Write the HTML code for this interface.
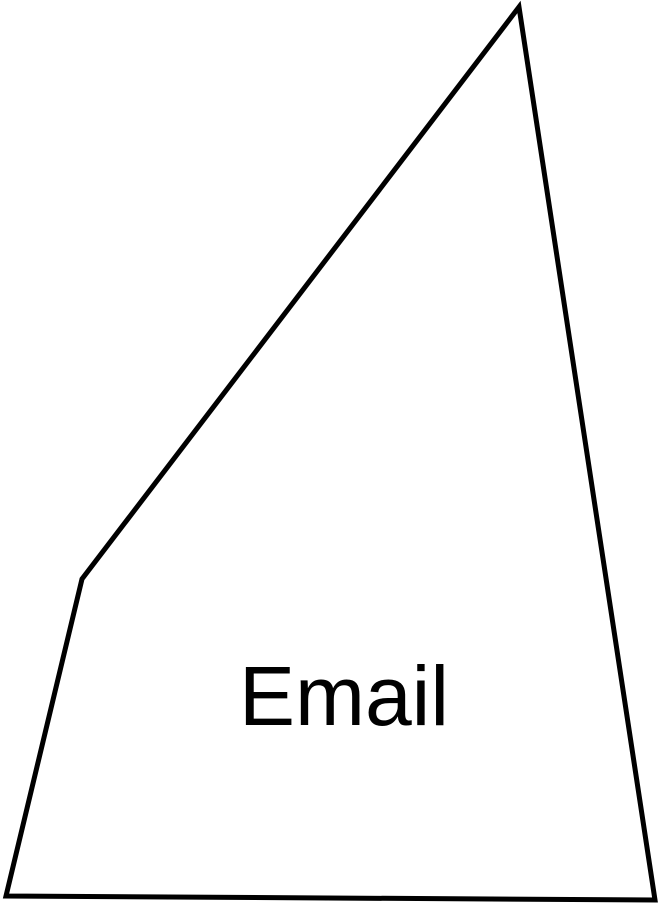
<!DOCTYPE html>
<html>
<head>
<meta charset="utf-8">
<style>
  html, body { margin: 0; padding: 0; background: #fff; }
  svg { display: block; }
</style>
</head>
<body>
<svg width="659" height="907" viewBox="0 0 659 907">
  <rect width="659" height="907" fill="#fff"/>
  <polygon points="519,7 655,900 6,896 82,579" fill="#fff" stroke="#000" stroke-width="5" stroke-linejoin="miter"/>
  <text x="344" y="725" text-anchor="middle" font-family="'Liberation Sans', sans-serif" font-size="84" fill="#000">Email</text>
</svg>
</body>
</html>
